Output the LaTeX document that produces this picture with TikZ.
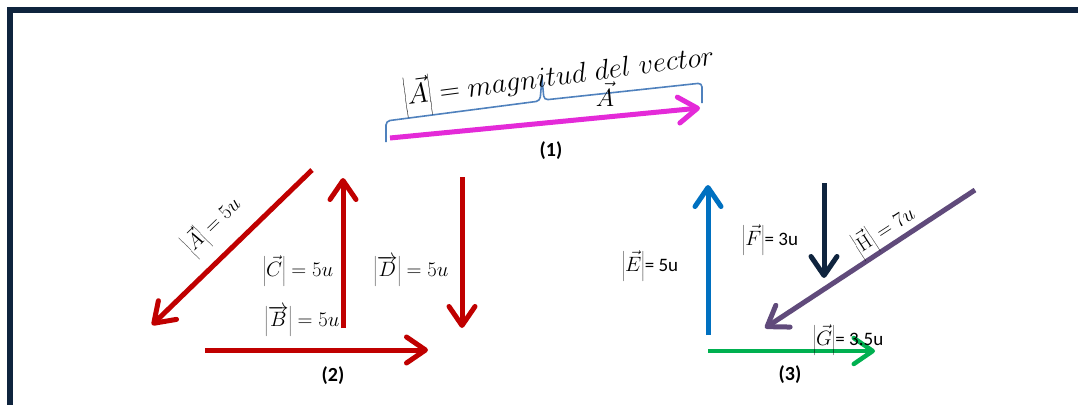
\documentclass[tikz,border=0pt]{standalone}
\usepackage{fontspec}
\newfontfamily\carlito{Carlito}
\usetikzlibrary{arrows.meta}
\definecolor{navyF}{HTML}{0F243E}
\definecolor{redV}{HTML}{C00000}
\definecolor{magV}{HTML}{E42AD8}
\definecolor{blueV}{HTML}{0070C0}
\definecolor{purV}{HTML}{604A7B}
\definecolor{greenV}{HTML}{00B050}
\definecolor{braceC}{HTML}{4F81BD}
\begin{document}
\begin{tikzpicture}[x=1pt,y=-1pt,
  vec/.style={line width=5pt, -{Straight Barb[length=19pt 0,width=26pt 0,round]}},
  mlab/.style={inner sep=0pt, font=\fontsize{20}{24}\selectfont},
  tlab/.style={inner sep=0pt},
  num/.style={inner sep=0pt, font=\fontsize{20}{24}\selectfont\carlito\bfseries}]
\useasboundingbox (0,0) rectangle (1078,404);
\clip (0,0) rectangle (1078,404);
\fill[white] (0,0) rectangle (1078,404);
\draw[navyF, line width=6pt] (10,10.5) rectangle (1100,430);

% group 1
\coordinate (m1) at (390,138);
\coordinate (m2) at (700,108);
\draw[vec, magV] (m1) -- (m2);
\coordinate (br1) at (386,142);
\coordinate (br2) at (386,121);
\coordinate (br3) at (540,101);
\coordinate (br4) at (542,78);
\coordinate (br5) at (544,100);
\coordinate (br6) at (702,83);
\coordinate (br7) at (702,103);
\draw[braceC, line width=1.6pt, rounded corners=4pt] (br1) -- (br2) -- (br3) -- (br4);
\draw[braceC, line width=1.6pt, rounded corners=4pt] (br4) -- (br5) -- (br6) -- (br7);
\node[rotate=7.5, scale=1.14, anchor=base, inner sep=0pt, font=\fontsize{24.88}{30}\selectfont] (mag) at (560,85)
  {$\left|\vec{A}\right| = magnitud\ del\ vector$};
\node[inner sep=0pt, font=\fontsize{24.88}{30}\selectfont] (Avec) at (605,94) {$\vec{A}$};
\node[num] (n1) at (551,151) {(1)};

% group 2
\coordinate (a1) at (312,170);
\coordinate (a2) at (152,325);
\coordinate (c1) at (343,328);
\coordinate (c2) at (343,178);
\coordinate (d1) at (462,177);
\coordinate (d2) at (462,328);
\coordinate (b1) at (205,350);
\coordinate (b2) at (428,350);
\draw[vec, redV] (a1) -- (a2);
\draw[vec, redV] (c1) -- (c2);
\draw[vec, redV] (d1) -- (d2);
\draw[vec, redV] (b1) -- (b2);
\node[mlab, rotate=44] (lA) at (213,226) {$\left|\vec{A}\right| = 5u$};
\node[mlab] (lC) at (298,271) {$\left|\vec{C}\right| = 5u$};
\node[mlab] (lD) at (411,271) {$\left|\overrightarrow{D}\right| = 5u$};
\node[mlab] (lB) at (302,321) {$\left|\overrightarrow{B}\right| = 5u$};
\node[num] (n2) at (333,376) {(2)};

% group 3
\coordinate (e1) at (708,335);
\coordinate (e2) at (708,185);
\coordinate (f1) at (824,183);
\coordinate (f2) at (824,278);
\coordinate (h1) at (975,190);
\coordinate (h2) at (765,328);
\coordinate (g1) at (708,351);
\coordinate (g2) at (875,351);
\draw[vec, blueV] (e1) -- (e2);
\draw[vec, navyF] (f1) -- (f2);
\draw[vec, purV] (h1) -- (h2);
\draw[vec, greenV, line width=4.5pt] (g1) -- (g2);
\node[tlab] (lE) at (650,266) {{\fontsize{21}{24}\selectfont$\left|\vec{E}\right|$}{\fontsize{19}{22}\selectfont\carlito= 5u}};
\node[tlab] (lF) at (770,240) {{\fontsize{21}{24}\selectfont$\left|\vec{F}\right|$}{\fontsize{19}{22}\selectfont\carlito= 3u}};
\node[mlab, rotate=33] (lH) at (885,231) {$\left|\vec{\mathrm{H}}\right| = 7u$};
\node[tlab] (lG) at (848,340) {{\fontsize{21}{24}\selectfont$\left|\vec{G}\right|$}{\fontsize{19}{22}\selectfont\carlito= 3.5u}};
\node[num] (n3) at (790,375) {(3)};
\end{tikzpicture}
\end{document}
